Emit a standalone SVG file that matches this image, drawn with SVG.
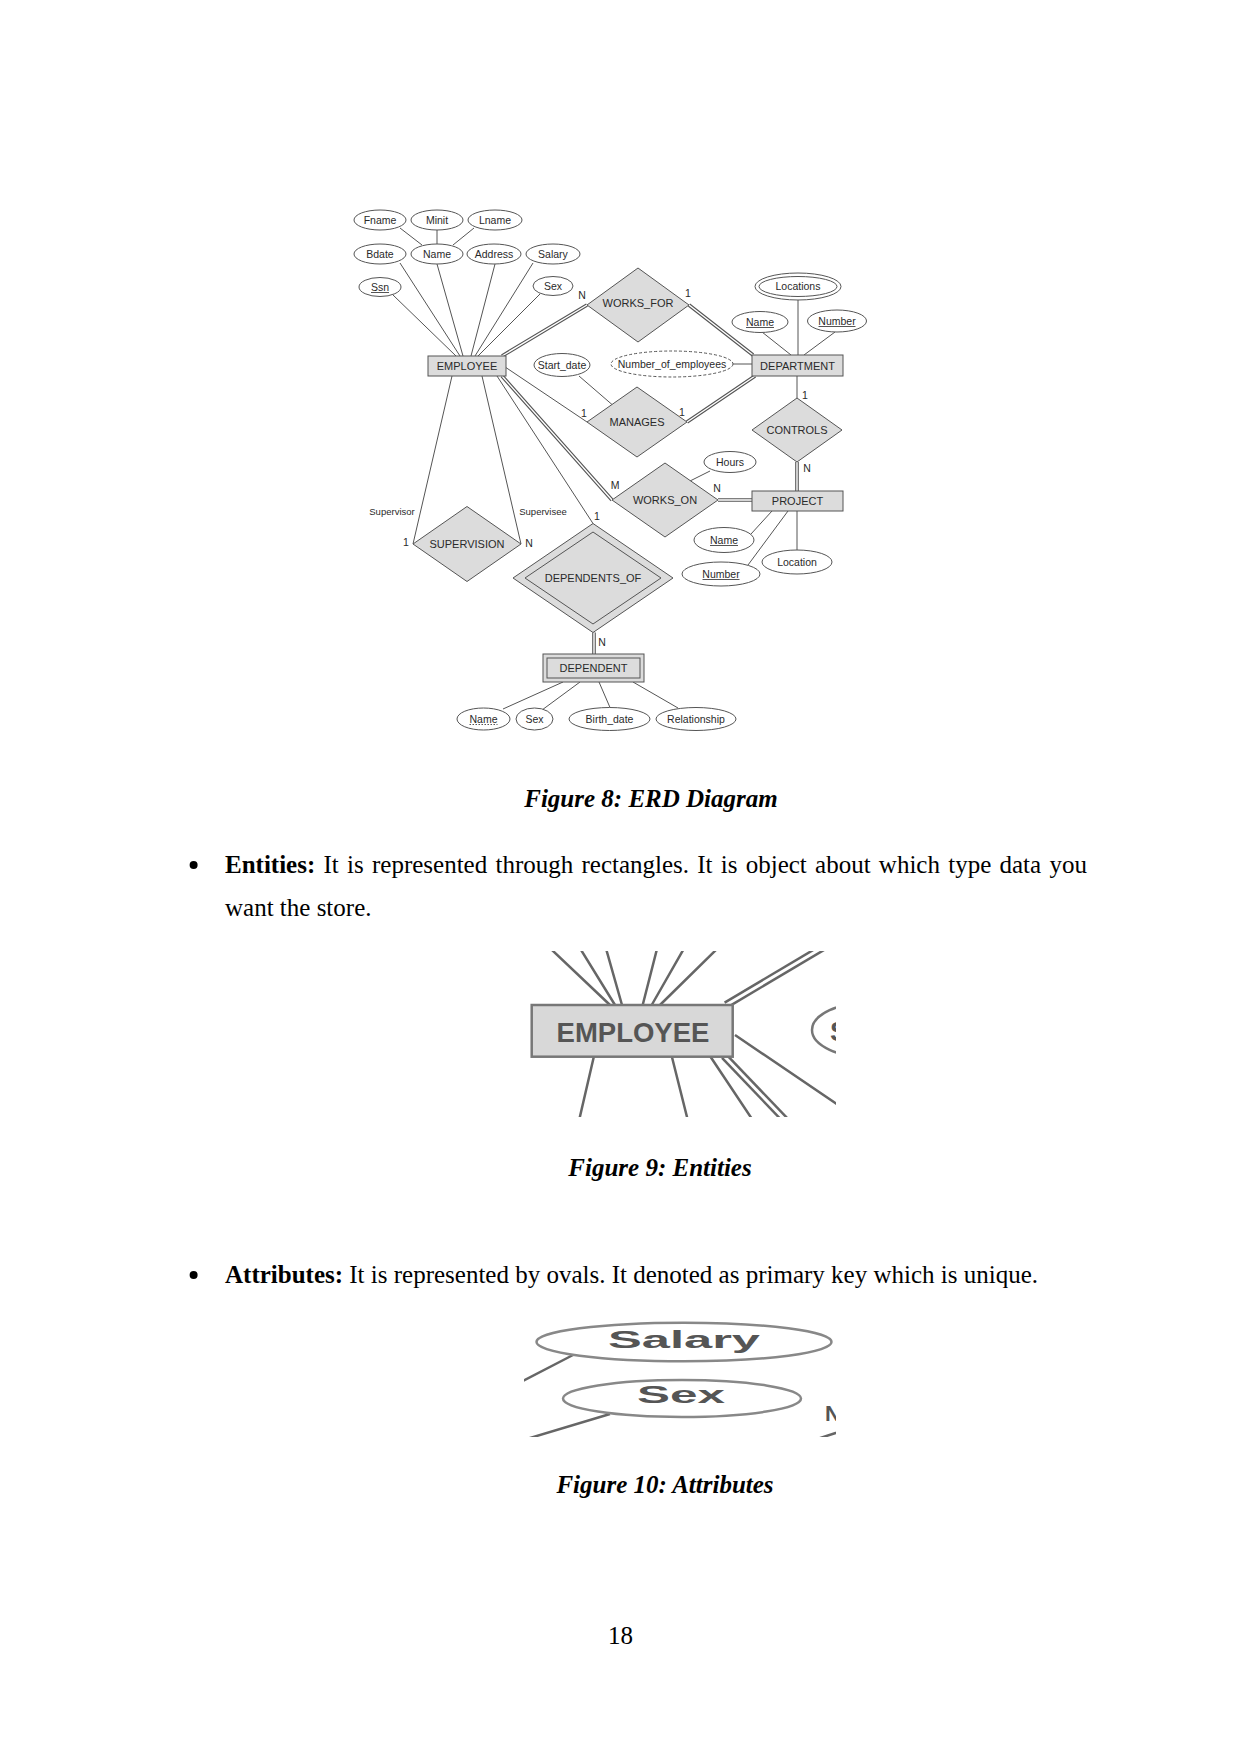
<svg xmlns="http://www.w3.org/2000/svg" width="1241" height="1754" viewBox="0 0 1241 1754">
<style>
.ln{stroke:#555;stroke-width:1;fill:none}
.dk{stroke:#555;stroke-width:3.6;fill:none}
.wh{stroke:#fff;stroke-width:1.4;fill:none}
.box{fill:#dcdcdc;stroke:#555;stroke-width:1}
.att{fill:#fff;stroke:#555;stroke-width:1}
.t{font-family:"Liberation Sans",Arial,sans-serif;font-size:10.5px;fill:#2a2a2a;text-anchor:middle}
.tb{font-family:"Liberation Sans",Arial,sans-serif;font-size:11px;fill:#2a2a2a;text-anchor:middle}
.lb{font-family:"Liberation Sans",Arial,sans-serif;font-size:9.5px;fill:#2a2a2a;text-anchor:middle}
.body{font-family:"Liberation Serif","Times New Roman",serif;font-size:25px;fill:#000}
.cap{font-family:"Liberation Serif","Times New Roman",serif;font-size:25px;font-weight:bold;font-style:italic;fill:#000;text-anchor:middle}
.f9l{stroke:#666;stroke-width:2.5;fill:none}
.f9d{stroke:#666;stroke-width:8;fill:none}
.f9w{stroke:#fff;stroke-width:3;fill:none}
.big{font-family:"Liberation Sans",Arial,sans-serif;font-weight:bold;fill:#555}
.f10{fill:#fff;stroke:#888;stroke-width:2.5}
</style>
<defs>
<clipPath id="c9"><rect x="529" y="951" width="307" height="166"/></clipPath>
<clipPath id="c10"><rect x="524" y="1320" width="312" height="117"/></clipPath>
</defs>
<rect width="1241" height="1754" fill="#fff"/>

<!-- ===== Figure 8 ERD ===== -->
<g id="connectors">
<path class="ln" d="M400 228L422 245M437 230L437 244M474 228L453 245"/>
<path class="ln" d="M393 295L456 356M400 263L460 356M437 264L463 356M495 264L471 356M533 263L475 356M540 294L478 356"/>
<path class="ln" d="M452 376L413 544M482 376L521 544M497 376L593 523.5M506 367.6L587 422"/>
<path class="ln" d="M579 376L612 404.5M733 364L752 364M798 300L798 355M762 332L791 355M835 332L804 355M797 376L797 398"/>
<path class="ln" d="M710 471L690 481M751 534L772 511M748 565L788 511M797 511L797 550"/>
<path class="ln" d="M563 682L503 709M580 682L542 710M599 682L610 707.5M633 682L678 708"/>
<path class="dk" d="M502 356L587 305M689 305L753 355M687 422L755 376M797 462L797 491M502 376L612 500M718 500L752 500M594 632.5L594 654"/>
<path class="wh" d="M502 356L587 305M689 305L753 355M687 422L755 376M797 462L797 491M502 376L612 500M718 500L752 500M594 632.5L594 654"/>
</g>

<g id="employee"><rect class="box" x="428" y="356" width="78" height="20"/><text class="tb" x="467" y="370">EMPLOYEE</text></g>
<g id="department"><rect class="box" x="752" y="355" width="91" height="21"/><text class="tb" x="797.5" y="369.5">DEPARTMENT</text></g>
<g id="project"><rect class="box" x="752" y="491" width="91" height="20"/><text class="tb" x="797.5" y="505">PROJECT</text></g>
<g id="dependent"><rect class="box" x="543" y="654" width="101" height="28"/><rect class="box" x="547" y="658" width="93" height="20"/><text class="tb" x="593.5" y="672">DEPENDENT</text></g>

<g id="works_for"><polygon class="box" points="587,305 638,268 689,305 638,342"/><text class="tb" x="638" y="307">WORKS_FOR</text></g>
<g id="manages"><polygon class="box" points="587,422 637,387 687,422 637,457"/><text class="tb" x="637" y="426">MANAGES</text></g>
<g id="controls"><polygon class="box" points="752,430 797,398 842,430 797,462"/><text class="tb" x="797" y="434">CONTROLS</text></g>
<g id="works_on"><polygon class="box" points="612,500 665,463 718,500 665,537"/><text class="tb" x="665" y="504">WORKS_ON</text></g>
<g id="supervision"><polygon class="box" points="413,544 467,506.5 521,544 467,581.5"/><text class="tb" x="467" y="548">SUPERVISION</text></g>
<g id="dependents_of"><polygon class="box" points="513,578 593,523.5 673,578 593,632.5"/><polygon class="box" points="525,578 593,532 661,578 593,624"/><text class="tb" x="593" y="582">DEPENDENTS_OF</text></g>

<g id="fname"><ellipse class="att" cx="380" cy="220" rx="26" ry="10"/><text class="t" x="380" y="223.7">Fname</text></g>
<g id="minit"><ellipse class="att" cx="437" cy="220" rx="26" ry="10"/><text class="t" x="437" y="223.7">Minit</text></g>
<g id="lname"><ellipse class="att" cx="495" cy="220" rx="27" ry="10"/><text class="t" x="495" y="223.7">Lname</text></g>
<g id="bdate"><ellipse class="att" cx="380" cy="254" rx="26" ry="10"/><text class="t" x="380" y="257.7">Bdate</text></g>
<g id="ename"><ellipse class="att" cx="437" cy="254" rx="26" ry="10"/><text class="t" x="437" y="257.7">Name</text></g>
<g id="address"><ellipse class="att" cx="494" cy="254" rx="27" ry="10"/><text class="t" x="494" y="257.7">Address</text></g>
<g id="salary"><ellipse class="att" cx="553" cy="254" rx="27" ry="10"/><text class="t" x="553" y="257.7">Salary</text></g>
<g id="ssn"><ellipse class="att" cx="380" cy="287" rx="21" ry="9.5"/><text class="t" x="380" y="290.7">Ssn</text><path class="ln" d="M371 292.5H389"/></g>
<g id="sex"><ellipse class="att" cx="553" cy="286" rx="20" ry="9.5"/><text class="t" x="553" y="289.7">Sex</text></g>
<g id="start_date"><ellipse class="att" cx="562" cy="365" rx="28" ry="11.5"/><text class="t" x="562" y="368.7">Start_date</text></g>
<g id="number_of_employees"><ellipse class="att" cx="672" cy="364" rx="61" ry="13" stroke-dasharray="3 2"/><text class="t" x="672" y="367.7">Number_of_employees</text></g>
<g id="locations"><ellipse class="att" cx="798" cy="286.5" rx="43" ry="13.5"/><ellipse class="att" cx="798" cy="286.5" rx="39" ry="10"/><text class="t" x="798" y="290.2">Locations</text></g>
<g id="dname"><ellipse class="att" cx="760" cy="322" rx="28" ry="10.5"/><text class="t" x="760" y="325.7">Name</text><path class="ln" d="M746 327.5H774"/></g>
<g id="dnumber"><ellipse class="att" cx="837" cy="321" rx="29.5" ry="11"/><text class="t" x="837" y="324.7">Number</text><path class="ln" d="M818.5 326.5H855.5"/></g>
<g id="hours"><ellipse class="att" cx="730" cy="462" rx="26" ry="10.5"/><text class="t" x="730" y="465.7">Hours</text></g>
<g id="pname"><ellipse class="att" cx="724" cy="540" rx="30" ry="12.5"/><text class="t" x="724" y="543.7">Name</text><path class="ln" d="M710 545.5H738"/></g>
<g id="pnumber"><ellipse class="att" cx="721" cy="574" rx="39" ry="12"/><text class="t" x="721" y="577.7">Number</text><path class="ln" d="M702.5 579.5H739.5"/></g>
<g id="plocation"><ellipse class="att" cx="797" cy="562" rx="35" ry="12"/><text class="t" x="797" y="565.7">Location</text></g>
<g id="depname"><ellipse class="att" cx="483.5" cy="719" rx="26.5" ry="11"/><text class="t" x="483.5" y="722.7">Name</text><path class="ln" d="M469.5 724.5H497.5" stroke-dasharray="1.5 1.5"/></g>
<g id="depsex"><ellipse class="att" cx="534.5" cy="719" rx="18.5" ry="11"/><text class="t" x="534.5" y="722.7">Sex</text></g>
<g id="birth_date"><ellipse class="att" cx="609.5" cy="719" rx="40.5" ry="11.5"/><text class="t" x="609.5" y="722.7">Birth_date</text></g>
<g id="relationship"><ellipse class="att" cx="696" cy="719" rx="40" ry="11.5"/><text class="t" x="696" y="722.7">Relationship</text></g>

<g id="labels">
<text class="t" x="582" y="299">N</text>
<text class="t" x="688" y="297">1</text>
<text class="t" x="584" y="417">1</text>
<text class="t" x="682" y="415.5">1</text>
<text class="t" x="805" y="399">1</text>
<text class="t" x="807" y="472">N</text>
<text class="t" x="615" y="489">M</text>
<text class="t" x="717" y="492">N</text>
<text class="lb" x="392" y="514.5">Supervisor</text>
<text class="t" x="406" y="545.5">1</text>
<text class="lb" x="543" y="514.5">Supervisee</text>
<text class="t" x="529" y="547">N</text>
<text class="t" x="597" y="519.5">1</text>
<text class="t" x="602" y="645.5">N</text>
</g>

<text class="cap" x="651" y="807">Figure 8: ERD Diagram</text>

<circle cx="193.6" cy="865" r="4" fill="#000"/>
<text class="body" x="225" y="873" word-spacing="2"><tspan font-weight="bold">Entities:</tspan> It is represented through rectangles. It is object about which type data you</text>
<text class="body" x="225" y="916">want the store.</text>

<!-- ===== Figure 9 ===== -->
<g id="fig9" clip-path="url(#c9)">
<path class="f9l" d="M546.7 945L610 1005M578 945L615 1005M605 945L622 1005M658 945L642.7 1005M686 945L651.7 1005M721 945L660 1005"/>
<path class="f9d" d="M827 945L726 1005"/><path class="f9w" d="M827 945L726 1005"/>
<path class="f9l" d="M594 1056L578 1125M671.7 1056L689 1125M710 1056L756 1125M735 1035L850 1113"/>
<path class="f9d" d="M724 1056L790 1125"/><path class="f9w" d="M724 1056L790 1125"/>
<rect x="531.7" y="1005" width="201" height="51.7" fill="#d8d8d8" stroke="#777" stroke-width="2.5"/>
<text class="big" x="633" y="1042" font-size="27.5" text-anchor="middle" fill="#4a4a4a">EMPLOYEE</text>
<ellipse cx="872" cy="1030" rx="60" ry="28" fill="#fff" stroke="#777" stroke-width="2.5"/>
<text class="big" x="830" y="1041" font-size="27.5">Start_date</text>
</g>

<text class="cap" x="660" y="1176">Figure 9: Entities</text>

<circle cx="193.6" cy="1275" r="4" fill="#000"/>
<text class="body" x="225" y="1283"><tspan font-weight="bold">Attributes:</tspan> It is represented by ovals. It denoted as primary key which is unique.</text>

<!-- ===== Figure 10 ===== -->
<g id="fig10" clip-path="url(#c10)">
<path class="f9l" stroke="#888" d="M573 1355L515 1385M610 1414L520 1441M814 1440L845 1430"/>
<ellipse class="f10" cx="684" cy="1342" rx="147.5" ry="19.3"/>
<text class="big" x="608" y="1348" font-size="23" fill="#777" textLength="152" lengthAdjust="spacingAndGlyphs">Salary</text>
<ellipse class="f10" cx="682" cy="1398.5" rx="119" ry="18.5"/>
<text class="big" x="637" y="1403" font-size="23" fill="#777" textLength="88" lengthAdjust="spacingAndGlyphs">Sex</text>
<text class="big" x="825" y="1421" font-size="22" fill="#777">N</text>
</g>

<text class="cap" x="665" y="1493">Figure 10: Attributes</text>
<text class="body" x="620.5" y="1644" text-anchor="middle">18</text>
</svg>
